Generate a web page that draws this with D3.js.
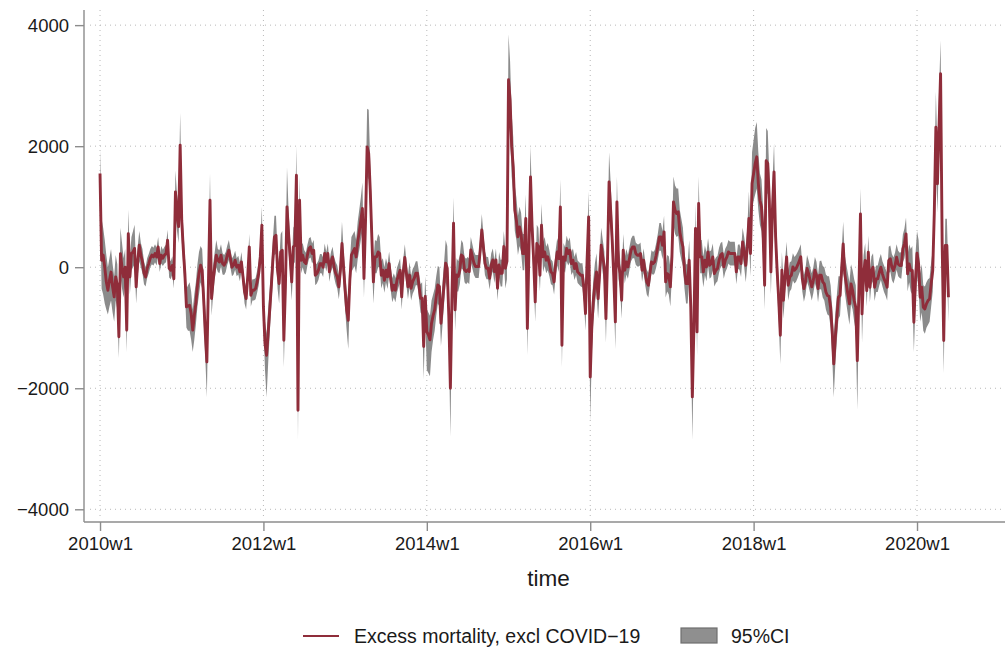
<!DOCTYPE html>
<html><head><meta charset="utf-8">
<script src="https://cdn.jsdelivr.net/npm/d3@7/dist/d3.min.js"></script>
<style>html,body{margin:0;padding:0;background:#fff;}svg{display:block;font-family:"Liberation Sans",Arial,Helvetica,sans-serif;}</style>
</head><body>
<svg id="chart" width="1008" height="651"></svg>
<script>
// weekly data, index 0 = 2010w1
const startWeek = 0;
const excess = [
1548,115,200,0,-240,-380,-215,-80,-325,-490,-160,-300,-1150,225,0,-160,0,-1040,555,-160,
225,250,310,-325,100,365,200,90,-100,-160,-20,60,150,200,170,225,170,335,60,200,
150,200,225,445,-20,-50,30,-190,1245,890,670,2017,777,300,-105,-655,-640,-630,-765,-1040,
-800,-600,-300,-100,33,-50,-545,-1096,-1565,-270,1107,-518,-215,0,198,115,88,198,60,33,
88,200,281,143,0,33,115,0,33,-77,88,-160,-408,-518,-160,336,-463,-380,-380,-353,
-243,-105,170,694,-656,-1262,-1455,-1096,-711,-325,115,501,529,-50,-270,253,281,-1207,-325,997,
556,170,-243,336,364,1520,-2364,1107,115,198,88,60,200,309,336,226,281,-132,-105,-50,
60,60,0,226,88,226,-77,88,170,0,-100,-160,-325,-50,391,0,-380,-711,-876,-215,
198,253,309,170,419,584,777,970,-187,777,1989,1878,1272,501,-242,170,170,253,226,-132,
-50,-215,-50,-160,60,-187,-380,-298,-380,-215,-132,-50,-490,-77,160,-100,-325,-130,-347,-237,
-182,-100,-100,-300,-512,-512,-1311,-485,-1063,-1118,-1200,-925,-800,-700,-485,-292,-320,-925,-595,-265,
66,-17,-815,-2000,-485,727,-705,-127,-154,-44,204,176,-44,-72,-44,-72,287,176,66,11,
11,11,287,617,342,66,-17,-17,-182,38,121,-72,121,-347,38,-100,-100,341,-17,100,
3097,2760,2000,1658,942,777,501,667,556,226,226,804,-1014,281,1493,667,116,-573,391,336,
-132,694,171,253,116,171,60,-77,-105,-243,60,253,143,997,-1289,171,116,309,226,281,
60,116,-22,60,-77,-105,-132,-132,-353,-766,116,832,-1813,-987,-545,-270,-77,-518,-105,364,
171,5,-849,116,1410,942,446,-160,-904,1080,60,-105,-545,281,-50,88,5,150,281,336,
336,226,198,198,226,-50,116,-105,-243,-298,-105,88,60,88,198,336,501,501,364,584,
-243,-105,-132,-325,171,1080,942,887,914,584,446,336,-50,-270,-270,116,-655,-2143,-987,639,
-1069,1052,171,171,-77,116,5,253,33,60,171,-105,-50,-22,116,200,226,5,116,171,
253,226,226,226,226,-77,171,171,60,419,250,33,336,804,226,1383,1548,1713,1824,1383,
1107,997,584,-298,1758,1713,1107,-77,970,1576,501,-77,-545,-1124,-50,-545,-160,171,-298,-160,
-132,5,-50,-22,33,100,171,-187,-353,-243,-22,-105,-215,-325,-215,-50,-132,-353,-132,-132,
-243,-276,-410,-468,-480,-661,-1047,-1598,-1157,-827,-496,-468,-55,386,-110,-276,-441,-606,-276,-386,
-550,-661,-1543,-386,882,-771,-110,110,-386,248,-331,-55,0,-331,-193,-193,-83,0,-110,-193,
-250,-331,110,138,0,-55,28,165,55,28,28,303,386,551,-110,55,-55,-55,-909,-220,
231,55,-496,-331,-661,-689,-606,-551,-524,-276,-55,900,2314,1378,2300,3196,400,-1212,358,358,
-496
];
const ciLow = [
1100,-350,-450,-600,-700,-780,-650,-550,-750,-900,-550,-700,-1500,-150,-350,-500,-300,-1400,200,-450,
-50,0,50,-600,-150,100,0,-100,-280,-320,-180,-100,0,50,30,80,30,180,-80,60,
20,60,80,280,-170,-200,-120,-350,900,600,400,1550,450,0,-400,-1000,-1050,-1050,-1200,-1400,
-1200,-950,-650,-450,-250,-350,-900,-1500,-2150,-600,750,-800,-450,-200,0,-80,-100,20,-120,-130,
-80,40,120,-10,-150,-120,-40,-150,-120,-230,-70,-320,-600,-700,-330,150,-650,-550,-550,-530,
-420,-300,-50,400,-950,-1700,-2150,-1600,-1100,-650,-200,200,220,-350,-600,-50,-20,-1650,-650,650,
250,-100,-550,50,80,1100,-2850,750,-100,0,-100,-120,30,140,160,60,110,-300,-270,-210,
-100,-100,-160,60,-70,60,-240,-80,0,-170,-280,-350,-530,-280,100,-300,-700,-1050,-1350,-500,
-80,-30,20,-100,130,280,450,600,-500,450,1500,1450,900,150,-600,-100,-100,0,0,-350,
-260,-420,-250,-360,-140,-380,-580,-500,-580,-420,-330,-250,-700,-280,-50,-300,-530,-330,-550,-440,
-380,-300,-300,-520,-750,-780,-1850,-850,-1700,-1750,-1800,-1400,-1200,-1050,-800,-600,-650,-1300,-950,-600,
-250,-350,-1200,-2800,-900,350,-1050,-400,-400,-280,-20,-40,-250,-280,-250,-280,80,-20,-130,-180,
-180,-180,80,380,130,-130,-200,-200,-370,-150,-70,-260,-70,-550,-170,-320,-320,100,-350,-200,
2500,2200,1500,1200,600,450,200,350,250,-50,-50,450,-1450,-30,1050,300,-200,-900,100,50,
-400,400,-80,20,-100,-50,-150,-280,-300,-450,-150,30,-80,650,-1650,-50,-90,100,30,80,
-130,-80,-210,-130,-260,-290,-320,-330,-570,-1050,-200,500,-2550,-1450,-900,-600,-380,-850,-400,80,
-100,-250,-1250,-200,1000,600,150,-480,-1350,700,-200,-350,-850,30,-270,-120,-190,-40,100,150,
150,40,10,10,40,-240,-80,-300,-450,-500,-300,-100,-130,-100,0,120,270,270,130,330,
-500,-400,-450,-650,-150,700,550,500,520,250,120,20,-350,-600,-600,-200,-1000,-2850,-1400,300,
-1450,700,-100,-100,-330,-130,-230,20,-190,-160,-50,-320,-260,-230,-90,0,30,-190,-80,-20,
60,30,30,30,30,-280,-30,-40,-160,180,0,-250,50,450,-150,950,1100,1200,1300,950,
700,600,200,-700,1250,1200,700,-450,600,1150,150,-400,-900,-1600,-350,-850,-420,-80,-550,-400,
-360,-220,-270,-240,-180,-110,-40,-400,-570,-460,-240,-320,-430,-550,-430,-270,-350,-580,-360,-370,
-500,-550,-700,-780,-800,-1000,-1450,-2150,-1600,-1200,-850,-800,-350,80,-400,-600,-780,-950,-600,-700,
-900,-1050,-2350,-750,500,-1250,-400,-150,-650,0,-580,-280,-230,-560,-410,-410,-300,-210,-320,-410,
-470,-550,-100,-70,-210,-270,-180,-40,-150,-180,-190,80,150,300,-400,-250,-400,-450,-1400,-650,
-150,-350,-900,-750,-1050,-1100,-1000,-950,-900,-650,-400,500,1800,900,1800,2600,-100,-1750,-50,-50,
-900
];
const ciHigh = [
1950,800,650,450,200,0,150,300,50,-150,200,50,-850,650,400,150,300,-750,950,150,
500,600,700,-50,350,600,400,300,100,0,150,220,300,350,320,380,320,500,200,350,
290,340,370,620,130,100,180,-20,1600,1200,1000,2550,1150,650,200,-350,-300,-250,-400,-700,
-450,-250,50,250,350,300,-200,-700,-1100,50,1550,-200,50,250,450,300,280,380,230,200,
250,360,450,300,150,190,270,150,190,80,250,0,-220,-320,20,550,-280,-200,-200,-180,
-60,100,400,1000,-350,-900,-1100,-700,-350,0,450,850,850,250,50,550,600,-850,0,1650,
950,450,50,650,700,2000,-1950,1500,350,400,280,240,370,480,500,390,450,40,60,110,
220,220,160,390,250,390,90,250,340,170,80,30,-120,200,750,300,-80,-400,-550,100,
500,550,600,450,750,950,1150,1400,150,1150,2620,2600,1700,900,100,450,430,550,500,100,
150,0,150,40,260,10,-180,-100,-180,-10,70,150,-280,130,380,100,-120,80,-140,-30,
20,100,100,-80,-280,-250,-900,-150,-700,-750,-800,-550,-450,-350,-150,20,0,-600,-250,80,
450,350,-450,-1600,-100,1150,-350,150,100,200,450,400,170,140,170,140,500,380,260,200,
200,200,500,880,560,260,170,170,10,230,310,120,310,-140,250,120,130,600,300,450,
3850,3400,2550,2150,1350,1150,850,1000,900,550,550,1200,-650,650,2000,1050,450,-250,700,650,
150,1050,420,500,340,400,280,130,100,-40,280,480,380,1450,-950,400,330,520,430,490,
250,310,170,250,110,80,60,70,-140,-480,450,1250,-1400,-600,-200,70,230,-200,200,650,
450,260,-500,450,1900,1400,800,150,-550,1500,350,150,-250,550,170,300,200,340,470,520,
520,410,380,380,410,140,310,90,-40,-90,90,280,250,280,400,550,730,730,600,850,
20,200,180,0,500,1500,1350,1300,1300,950,800,650,250,50,50,450,-300,-1700,-600,1050,
-700,1500,450,450,180,360,240,480,260,280,390,110,160,190,320,400,420,200,310,360,
450,420,420,420,420,120,370,380,280,650,500,320,650,1250,600,1900,2100,2300,2400,1900,
1550,1450,1000,100,2300,2250,1550,300,1400,2050,900,250,-200,-750,250,-250,100,420,-50,80,
100,230,170,200,250,310,380,30,-130,-30,200,110,0,-100,0,170,90,-130,100,110,
20,0,-120,-150,-150,-300,-650,-1150,-750,-450,-150,-150,250,750,200,50,-100,-250,50,-50,
-200,-300,-1100,0,1300,-350,200,400,-100,520,-80,180,230,-100,30,30,140,220,100,30,
-30,-100,340,360,220,160,240,380,270,240,250,540,640,820,200,380,300,350,-500,200,
600,450,-100,50,-300,-320,-250,-200,-180,80,300,1350,2900,1900,2900,3750,900,-800,800,800,
-100
];
const yTicks = [-4000, -2000, 0, 2000, 4000];
const xTickWeeks = [0, 104, 208, 312, 416, 520];
const xTickLabels = ["2010w1", "2012w1", "2014w1", "2016w1", "2018w1", "2020w1"];
const seriesLabel = "Excess mortality, excl COVID\u221219";
const ciLabel = "95%CI";
const axisTitle = "time";

(function () {
const data = excess.map((v, i) => ({ w: startWeek + i, v: v, lo: ciLow[i], hi: ciHigh[i] }));

const svg = d3.select("#chart");
const mL = 84, mR = 1005, mT = 10, mB = 522;
const x = d3.scaleLinear().domain([-10.2, 576]).range([mL, mR]);
const y = d3.scaleLinear().domain([-4210, 4250]).range([mB, mT]);

const fmtY = d => (d < 0 ? "\u2212" + Math.abs(d) : String(d));

// grid
const grid = svg.append("g").attr("stroke", "#b8b8b8").attr("stroke-width", 1).attr("stroke-dasharray", "1,4");
grid.selectAll("line.h").data(yTicks).join("line").attr("class", "h")
  .attr("x1", mL + 6).attr("x2", mR).attr("y1", d => y(d)).attr("y2", d => y(d));
grid.selectAll("line.v").data(xTickWeeks).join("line").attr("class", "v")
  .attr("y1", mT).attr("y2", mB - 4).attr("x1", d => x(d)).attr("x2", d => x(d));

// CI band
const area = d3.area().x(d => x(d.w)).y0(d => y(d.lo)).y1(d => y(d.hi));
svg.append("path").datum(data).attr("d", area).attr("fill", "#8b8b8b").attr("stroke", "none");

// line
const line = d3.line().x(d => x(d.w)).y(d => y(d.v));
svg.append("path").datum(data).attr("d", line).attr("fill", "none")
  .attr("stroke", "#8f2d3a").attr("stroke-width", 2.9).attr("stroke-linejoin", "round");

// axes
const yAxis = d3.axisLeft(y).tickValues(yTicks).tickFormat(fmtY).tickSize(9).tickPadding(6);
const gy = svg.append("g").attr("transform", `translate(${mL},0)`).call(yAxis);
const xAxis = d3.axisBottom(x).tickValues(xTickWeeks).tickFormat((d, i) => xTickLabels[i]).tickSize(9).tickPadding(6);
const gx = svg.append("g").attr("transform", `translate(0,${mB})`).call(xAxis);
[gy, gx].forEach(g => {
  g.select(".domain").attr("stroke", "#8c8c8c").attr("stroke-width", 1.4);
  g.selectAll(".tick line").attr("stroke", "#8c8c8c").attr("stroke-width", 1.4);
  g.selectAll(".tick text").attr("fill", "#1a1a1a").style("font-size", "18.5px")
    .style("font-family", '"Liberation Sans", Arial, sans-serif');
});
gy.select(".domain").attr("d", `M0,${mT}V${mB}`);
gx.select(".domain").attr("d", `M${mL},0H${mR}`);

svg.append("text").attr("x", (mL + mR) / 2 + 4).attr("y", 586).attr("text-anchor", "middle")
  .attr("fill", "#1a1a1a").style("font-size", "22.5px").text(axisTitle);

// legend
const lg = svg.append("g");
lg.append("line").attr("x1", 303).attr("x2", 339).attr("y1", 636).attr("y2", 636)
  .attr("stroke", "#8f2d3a").attr("stroke-width", 2.2);
lg.append("text").attr("x", 354).attr("y", 643).attr("fill", "#1a1a1a").style("font-size", "19.5px").text(seriesLabel);
lg.append("rect").attr("x", 681).attr("y", 628).attr("width", 36).attr("height", 15)
  .attr("fill", "#8f8f8f").attr("stroke", "#6f6f6f").attr("stroke-width", 1.2);
lg.append("text").attr("x", 731).attr("y", 643).attr("fill", "#1a1a1a").style("font-size", "19.5px").text(ciLabel);
})();
</script>
</body></html>
